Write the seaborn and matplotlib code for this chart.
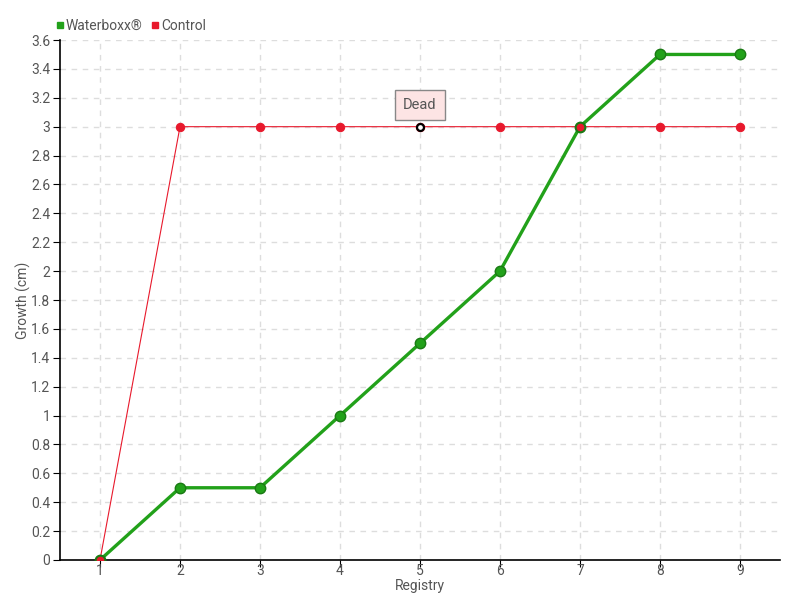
import matplotlib
matplotlib.use("Agg")
import matplotlib.pyplot as plt
import seaborn as sns
import pandas as pd
from matplotlib.lines import Line2D

registry = [1, 2, 3, 4, 5, 6, 7, 8, 9]
waterboxx = [0, 0.5, 0.5, 1, 1.5, 2, 3, 3.5, 3.5]
control = [0, 3, 3, 3, 3, 3, 3, 3, 3]
dead_at = 5
y_ticks = [0, 0.2, 0.4, 0.6, 0.8, 1, 1.2, 1.4, 1.6, 1.8, 2, 2.2, 2.4, 2.6, 2.8, 3, 3.2, 3.4, 3.6]

sns.set_style("white")
plt.rcParams["font.family"] = ["Roboto", "DejaVu Sans"]

green = "#22a11a"
red = "#e8192c"
text_col = "#555555"

df = pd.DataFrame({"Registry": registry, "Waterboxx": waterboxx, "Control": control})

fig = plt.figure(figsize=(8, 6), dpi=100)
ax = fig.add_axes([0.075, 0.0667, 0.9, 0.8666])

sns.lineplot(data=df, x="Registry", y="Control", ax=ax, color=red, lw=0.8,
             marker="o", markersize=6, markeredgecolor=red, zorder=3)
sns.lineplot(data=df, x="Registry", y="Waterboxx", ax=ax, color=green, lw=2.4,
             marker="o", markersize=7.5, markeredgecolor="#1a7a14", markeredgewidth=1, zorder=4)
# control markers drawn over the green ones where they coincide
ax.plot([1, 7], [control[0], control[6]], "o", color=red, markersize=6.5,
        markeredgecolor="#1a7a14", markeredgewidth=1, zorder=5)
# dead marker
ax.plot([dead_at], [control[dead_at - 1]], "o", color="white", markersize=5,
        markeredgecolor="black", markeredgewidth=1.6, zorder=6)

ax.annotate("Dead", xy=(dead_at, control[dead_at - 1]), xytext=(dead_at, 3.15),
            ha="center", va="center", fontsize=10.5, color=text_col,
            bbox=dict(boxstyle="square,pad=0.55", fc="#fde4e4", ec="#888888", lw=1),
            zorder=7)

ax.set_xlim(0.5, 9.5)
ax.set_ylim(0, 3.6)
ax.set_xticks(registry)
ax.set_yticks(y_ticks)
ax.set_yticklabels([f"{v:g}" for v in y_ticks])
ax.tick_params(axis="both", labelcolor=text_col, labelsize=10, length=5, direction="out",
               left=True, bottom=True, color="black", pad=2)
ax.tick_params(axis="x", pad=-2)
ax.grid(True, ls=(0, (4, 4)), color="#dddddd", lw=1)
for s in ["top", "right"]:
    ax.spines[s].set_visible(False)
for s in ["left", "bottom"]:
    ax.spines[s].set_color("black")
    ax.spines[s].set_linewidth(1.2)

ax.set_xlabel("Registry", color=text_col, fontsize=10)
ax.xaxis.set_label_coords(0.5, -0.036)
ax.set_ylabel("Growth (cm)", color=text_col, fontsize=10)
ax.yaxis.set_label_coords(-0.04, 0.5)

handles = [Line2D([], [], ls="none", marker="s", color=green, markersize=4.5),
           Line2D([], [], ls="none", marker="s", color=red, markersize=4.5)]
leg = fig.legend(handles, ["Waterboxx®", "Control"], loc="upper left",
                 bbox_to_anchor=(0.052, 0.99), ncol=2, frameon=False, fontsize=10,
                 handletextpad=0.05, columnspacing=0.5, handlelength=0.8)
for t in leg.get_texts():
    t.set_color(text_col)

fig.savefig("out.png", dpi=100)
